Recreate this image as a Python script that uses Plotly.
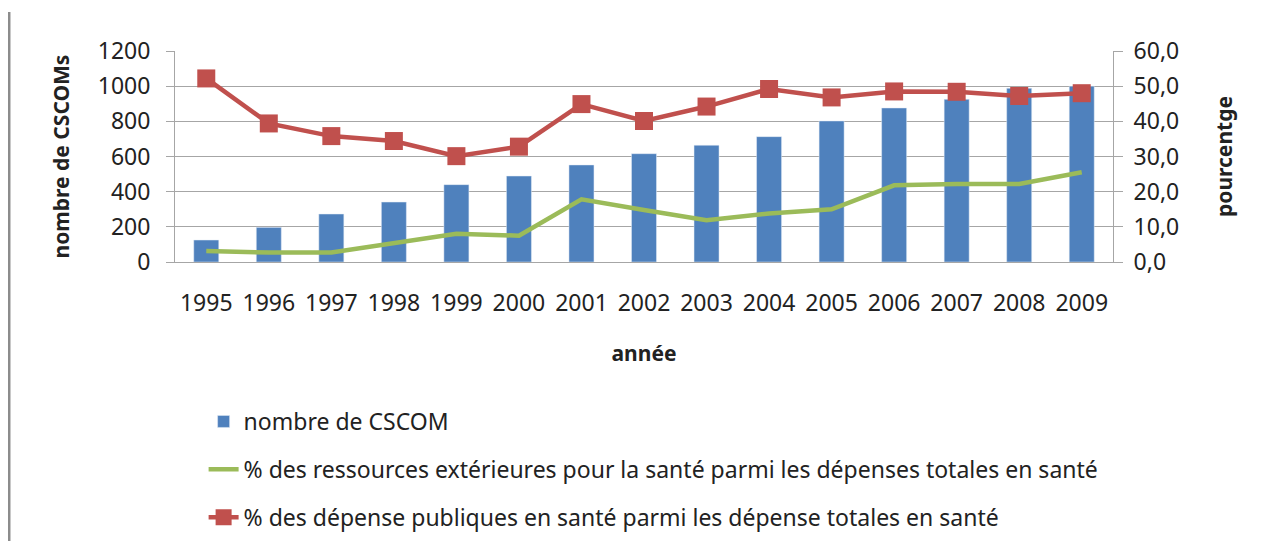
import plotly.graph_objects as go

years = ["1995", "1996", "1997", "1998", "1999", "2000", "2001", "2002",
         "2003", "2004", "2005", "2006", "2007", "2008", "2009"]
cscom = [125, 197, 273, 341, 440, 489, 552, 616, 664, 713, 802, 876, 925, 988, 1000]
ext_pct = [3.1, 2.7, 2.7, 5.5, 8.0, 7.5, 17.8, 14.8, 11.9, 13.8, 15.0, 21.8, 22.2, 22.2, 25.5]
pub_pct = [52.2, 39.4, 35.8, 34.4, 30.1, 32.8, 44.9, 40.1, 44.2, 49.2, 46.8, 48.5, 48.4, 47.2, 48.0]

left_ticks = [0, 200, 400, 600, 800, 1000, 1200]
right_ticks = [0, 10, 20, 30, 40, 50, 60]

FONT = "Noto Sans"
GRID = "#A6A6A6"

fig = go.Figure()
fig.add_trace(go.Bar(
    x=years, y=cscom, name="nombre de CSCOM", marker_color="#4F81BD",
    width=0.4, legendgroup="a"))
fig.add_trace(go.Scatter(
    x=years, y=ext_pct, name="% des ressources extérieures pour la santé parmi les dépenses totales en santé",
    mode="lines", line=dict(color="#9BBB59", width=4.5), yaxis="y2", legendgroup="b"))
fig.add_trace(go.Scatter(
    x=years, y=pub_pct, name="% des dépense publiques en santé parmi les dépense totales en santé",
    mode="lines+markers", line=dict(color="#C0504D", width=4.5),
    marker=dict(symbol="square", size=18, color="#C0504D"), yaxis="y2", legendgroup="c"))

fig.update_layout(
    width=1253, height=533,
    margin=dict(l=167, r=148, t=43, b=279, autoexpand=False),
    paper_bgcolor="white", plot_bgcolor="white",
    font=dict(family=FONT, size=23, color="#222222"),
    separators=", ",
    bargap=0.6,
    xaxis=dict(
        range=[-0.5, len(years) - 0.5],
        showline=True, linecolor=GRID, linewidth=1, ticks="",
        ticklabelstandoff=20, tickfont=dict(size=23),
        title=dict(text="<b>année</b>", font=dict(size=21), standoff=29),
    ),
    yaxis=dict(
        range=[0, 1200], tickvals=left_ticks, tickformat="d",
        showgrid=True, gridcolor=GRID, gridwidth=1,
        showline=True, linecolor=GRID, linewidth=1,
        ticks="outside", ticklen=8, tickcolor=GRID,
        ticklabelstandoff=11, tickfont=dict(size=23),
        zeroline=False,
        title=dict(text="<b>nombre de CSCOMs</b>", font=dict(size=21), standoff=22),
    ),
    yaxis2=dict(
        range=[0, 60], tickvals=right_ticks, tickformat=".1f",
        overlaying="y", side="right", showgrid=False,
        showline=True, linecolor=GRID, linewidth=1,
        ticks="outside", ticklen=9, tickcolor=GRID,
        ticklabelstandoff=6, tickfont=dict(size=23),
        zeroline=False,
        title=dict(text="<b>pourcentge</b>", font=dict(size=21), standoff=39),
    ),
    legend=dict(
        orientation="v", x=0.0305, xanchor="left", y=-0.654, yanchor="top",
        font=dict(size=23), traceorder="grouped", tracegroupgap=15,
        bgcolor="rgba(0,0,0,0)",
    ),
    shapes=[dict(type="line", xref="paper", yref="paper",
                 x0=-0.177, x1=-0.177, y0=-1.322, y1=1.185,
                 line=dict(color="#8C8C8C", width=3))],
)

fig.write_html("out.html")
